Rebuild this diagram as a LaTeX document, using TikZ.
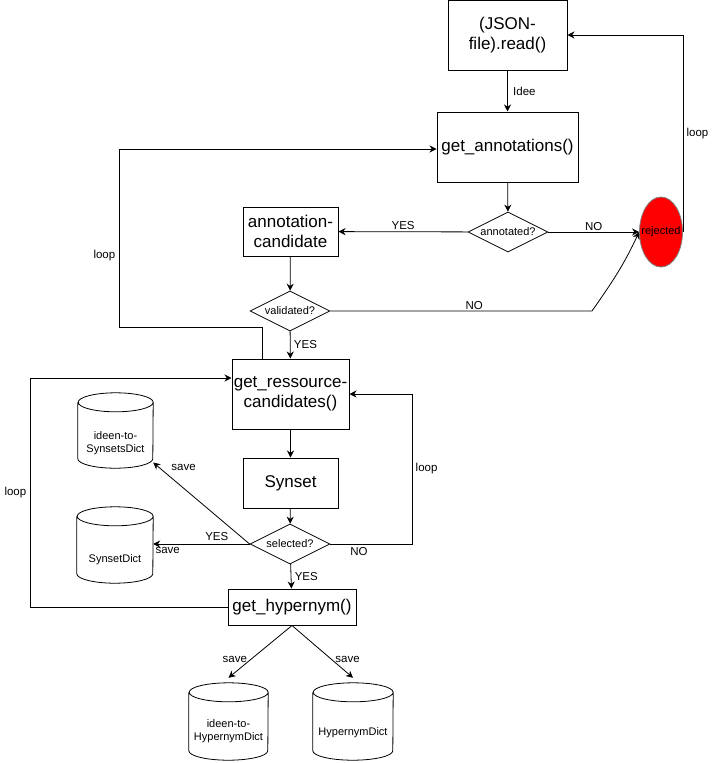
\documentclass[tikz,border=0pt]{standalone}
\usepackage{fontspec}
\setmainfont{Liberation Sans}
\usetikzlibrary{shapes.geometric,arrows.meta}

\tikzset{
	proc/.style={draw, line width=1pt, align=center, inner sep=0pt,
		font=\fontsize{17}{19.5}\selectfont},
	decision/.style={draw, diamond, line width=0.8pt, inner sep=0pt,
		minimum width=80pt, minimum height=40pt},
	store/.style={inner sep=0pt},
	flow/.style={-{Stealth[length=7pt,width=7pt]}, line width=0.8pt},
	lbl/.style={font=\fontsize{11.5}{13}\selectfont},
	small/.style={font=\fontsize{11}{13}\selectfont, align=center}
}

\newcommand{\dbcan}[2]{%
	\draw[line width=0.8pt] ([yshift=-9.5pt]#1.north west) -- ([yshift=9.5pt]#1.south west)
		arc[start angle=180, end angle=360, x radius=#2, y radius=9.5pt]
		-- ([yshift=-9.5pt]#1.north east)
		arc[start angle=0, end angle=180, x radius=#2, y radius=9.5pt]
		arc[start angle=180, end angle=360, x radius=#2, y radius=9.5pt];
}

\begin{document}
\begin{tikzpicture}[x=1pt, y=-1pt, lbl]
		\useasboundingbox (0,0) rectangle (714,763);

		\node[proc, minimum width=119pt, minimum height=70pt] (json) at (507.5,35) {(JSON-\\file).read()};
		\node[proc, minimum width=141pt, minimum height=70pt] (annot) at (507.5,147) {get\_annotations()};
		\node[decision, label={[small]center:annotated?}] (andec) at (508,232) {};
		\node[ellipse, draw=gray, fill=red, line width=0.8pt, minimum width=43pt, minimum height=70pt,
			label={[small]center:rejected}] (rej) at (661,232) {};
		\node[proc, minimum width=95pt, minimum height=49pt] (cand) at (290.5,231.5) {annotation-\\candidate};
		\node[decision, label={[small]center:validated?}] (valdec) at (290,311) {};
		\node[proc, minimum width=117pt, minimum height=70pt] (res) at (290.5,394) {get\_ressource-\\candidates()};
		\node[proc, minimum width=95pt, minimum height=50pt] (syn) at (290.5,483) {Synset};
		\node[decision, label={[small]center:selected?}] (seldec) at (290,544) {};
		\node[proc, minimum width=128pt, minimum height=36pt] (hyp) at (292,607) {get\_hypernym()};

		\node[store, minimum width=75pt, minimum height=75pt,
			label={[small, yshift=-13pt]center:ideen-to-\\SynsetsDict}] (synids) at (115.5,430.5) {};
		\node[store, minimum width=76pt, minimum height=76pt,
			label={[small, yshift=-15pt]center:SynsetDict}] (syndict) at (115,545) {};
		\node[store, minimum width=79pt, minimum height=77pt,
			label={[small, yshift=-10pt]center:ideen-to-\\HypernymDict}] (hypids) at (228.5,721.5) {};
		\node[store, minimum width=80pt, minimum height=77pt,
			label={[small, yshift=-11.5pt]center:HypernymDict}] (hypdict) at (353,721.5) {};
		\dbcan{synids}{37.5pt}
		\dbcan{syndict}{38pt}
		\dbcan{hypids}{39.5pt}
		\dbcan{hypdict}{40pt}

		\coordinate (bend) at (592,311);

		\draw[flow] (json) -- node[right, xshift=2pt]{Idee} (annot);
		\draw[flow] (annot) -- (andec);
		\draw[flow] (andec) -- node[above, yshift=-2pt]{NO} (rej);
		\draw[flow] (andec) -- node[above, yshift=-2pt]{YES} (cand);
		\draw[flow] (cand) -- (valdec);
		\draw[flow] (valdec) -- node[above, pos=0.55, yshift=-2pt]{NO} (bend) to[out=55, in=-115] (rej.west);
		\draw[flow] (valdec) -- node[right]{YES} (res);
		\draw[flow] ([xshift=-28.5pt]res.north) |- (119,327) |- node[pos=0.2, left]{loop} ([yshift=-2pt]annot.west);
		\draw[flow] (rej.east) |- node[pos=0.25, right]{loop} (json.east);

		\draw[flow] (res) -- (syn);
		\draw[flow] (syn) -- (seldec);
		\draw[flow] (seldec) -- node[right]{YES} (hyp);
		\draw[flow] (seldec.east) -- node[below, pos=0.35]{NO} (412,544) |- node[pos=0.25, right]{loop} (res.east);
		\draw[flow] (seldec.west) -- node[above, pos=0.34]{YES} node[below, pos=0.85]{save} (seldec.west -| syndict.east);
		\draw[flow] (seldec.west) -- node[above right, pos=0.85]{save} ([yshift=-32pt]synids.east);
		\draw[flow] (hyp.west) -- (30,607) |- node[pos=0.25, left]{loop} ([yshift=16pt]res.west);
		\draw[flow] (hyp.south) -- node[left, pos=0.65]{save} ([yshift=5pt]hypids.north);
		\draw[flow] (hyp.south) -- node[right, pos=0.65]{save} ([yshift=5pt]hypdict.north);
	\end{tikzpicture}
\end{document}
